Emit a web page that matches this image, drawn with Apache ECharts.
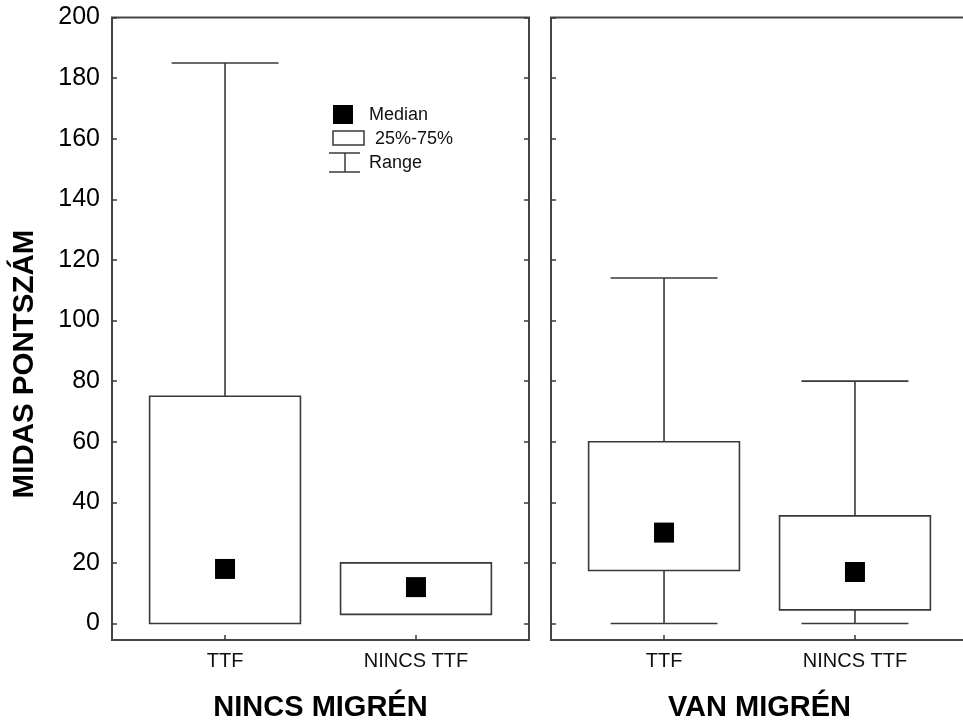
<!DOCTYPE html>
<html>
<head>
<meta charset="utf-8">
<script src="https://cdn.jsdelivr.net/npm/echarts@6/dist/echarts.min.js"></script>
<style>
html,body{margin:0;padding:0;background:#fff;}
#c{width:963px;height:724px;}
</style>
</head>
<body>
<div id="c"></div>
<script>
// ---- data ----
const groups = ['NINCS MIGRÉN', 'VAN MIGRÉN'];
const categories = ['TTF', 'NINCS TTF'];
const yTicks = [0, 20, 40, 60, 80, 100, 120, 140, 160, 180, 200];

// NINCS MIGRÉN
const noMigMin = [0, 3];
const noMigQ1 = [0, 3];
const noMigMedian = [18, 12];
const noMigQ3 = [75, 20];
const noMigMax = [185, 20];

// VAN MIGRÉN
const migMin = [0, 0];
const migQ1 = [17.5, 4.5];
const migMedian = [30, 17];
const migQ3 = [60, 35.5];
const migMax = [114, 80];

const legendLabels = ['Median', '25%-75%', 'Range'];
const yTitle = 'MIDAS PONTSZÁM';

// ---- build ----
const FONT = '"Liberation Sans", Arial, sans-serif';
const LINE = '#383838';
const BOX_W = 0.79, CAP_W = 0.56;

function boxData(mn, q1, md, q3, mx) {
  return categories.map((c, i) => [i, mn[i], q1[i], md[i], q3[i], mx[i]]);
}
function medData(md) {
  return categories.map((c, i) => [i, md[i]]);
}

function renderBox(params, api) {
  const x = api.value(0), mn = api.value(1), q1 = api.value(2), q3 = api.value(4), mx = api.value(5);
  const bw = api.size([BOX_W, 0])[0];
  const cw = api.size([CAP_W, 0])[0];
  const pMin = api.coord([x, mn]), pQ1 = api.coord([x, q1]), pQ3 = api.coord([x, q3]), pMax = api.coord([x, mx]);
  const st = { stroke: LINE, lineWidth: 1.6, fill: null };
  const ch = [];
  if (mx > q3) {
    ch.push({ type: 'line', shape: { x1: pQ3[0], y1: pQ3[1], x2: pMax[0], y2: pMax[1] }, style: st });
    ch.push({ type: 'line', shape: { x1: pMax[0] - cw / 2, y1: pMax[1], x2: pMax[0] + cw / 2, y2: pMax[1] }, style: st });
  }
  if (mn < q1) {
    ch.push({ type: 'line', shape: { x1: pMin[0], y1: pMin[1], x2: pQ1[0], y2: pQ1[1] }, style: st });
    ch.push({ type: 'line', shape: { x1: pMin[0] - cw / 2, y1: pMin[1], x2: pMin[0] + cw / 2, y2: pMin[1] }, style: st });
  }
  ch.push({ type: 'rect', shape: { x: pQ3[0] - bw / 2, y: pQ3[1], width: bw, height: pQ1[1] - pQ3[1] },
            style: { stroke: LINE, lineWidth: 1.6, fill: '#fff' } });
  return { type: 'group', children: ch };
}

const grids = [
  { left: 112, top: 17.5, width: 417, height: 622.5, show: true, borderColor: '#444', borderWidth: 2, backgroundColor: 'transparent', outerBoundsMode: 'none', containLabel: false },
  { left: 551, top: 17.5, width: 417, height: 622.5, show: true, borderColor: '#444', borderWidth: 2, backgroundColor: 'transparent', outerBoundsMode: 'none', containLabel: false }
];

function xAx(gi) {
  return {
    type: 'value', gridIndex: gi, min: -0.592, max: 1.592,
    name: groups[gi], nameLocation: 'middle', nameGap: 53,
    nameTextStyle: { fontFamily: FONT, fontSize: 29, fontWeight: 'bold', color: '#000' },
    axisLine: { show: false, onZero: false }, splitLine: { show: false },
    axisTick: { show: true, inside: true, length: 5, customValues: [0, 1], lineStyle: { color: LINE, width: 1.5 } },
    axisLabel: { show: true, customValues: [0, 1], margin: 11, fontFamily: FONT, fontSize: 20, color: '#111',
                 formatter: v => categories[Math.round(v)] }
  };
}
function yAx(gi, pos, labels) {
  return {
    type: 'value', gridIndex: gi, position: pos, min: -5.45, max: 200,
    axisLine: { show: false, onZero: false }, splitLine: { show: false },
    axisTick: { show: true, inside: true, length: 5, customValues: yTicks, lineStyle: { color: LINE, width: 1.5 } },
    axisLabel: { show: labels, customValues: yTicks, margin: 12, fontFamily: FONT, fontSize: 25, color: '#000' }
  };
}

const option = {
  backgroundColor: '#fff',
  animation: false,
  grid: grids,
  xAxis: [xAx(0), xAx(1)],
  yAxis: [yAx(0, 'left', true), yAx(0, 'right', false), yAx(1, 'left', false)],
  series: [
    { type: 'custom', xAxisIndex: 0, yAxisIndex: 0, renderItem: renderBox, data: boxData(noMigMin, noMigQ1, noMigMedian, noMigQ3, noMigMax), z: 2 },
    { type: 'scatter', xAxisIndex: 0, yAxisIndex: 0, symbol: 'rect', symbolSize: 20, itemStyle: { color: '#000', opacity: 1 }, data: medData(noMigMedian), z: 5 },
    { type: 'custom', xAxisIndex: 1, yAxisIndex: 2, renderItem: renderBox, data: boxData(migMin, migQ1, migMedian, migQ3, migMax), z: 2 },
    { type: 'scatter', xAxisIndex: 1, yAxisIndex: 2, symbol: 'rect', symbolSize: 20, itemStyle: { color: '#000', opacity: 1 }, data: medData(migMedian), z: 5 }
  ],
  graphic: [
    { type: 'text', x: 25, y: 364, rotation: Math.PI / 2,
      style: { text: yTitle, fontFamily: FONT, fontSize: 29.5, fontWeight: 'bold', fill: '#000', align: 'center', verticalAlign: 'middle' } },
    // legend
    { type: 'rect', shape: { x: 333, y: 105, width: 20, height: 19 }, style: { fill: '#000' } },
    { type: 'text', x: 369, y: 115, style: { text: legendLabels[0], fontFamily: FONT, fontSize: 18, fill: '#111', verticalAlign: 'middle' } },
    { type: 'rect', shape: { x: 333, y: 131, width: 31, height: 14 }, style: { fill: '#fff', stroke: LINE, lineWidth: 1.5 } },
    { type: 'text', x: 375, y: 139, style: { text: legendLabels[1], fontFamily: FONT, fontSize: 18, fill: '#111', verticalAlign: 'middle' } },
    { type: 'line', shape: { x1: 329, y1: 153, x2: 360, y2: 153 }, style: { stroke: LINE, lineWidth: 1.5 } },
    { type: 'line', shape: { x1: 329, y1: 172, x2: 360, y2: 172 }, style: { stroke: LINE, lineWidth: 1.5 } },
    { type: 'line', shape: { x1: 345, y1: 153, x2: 345, y2: 172 }, style: { stroke: LINE, lineWidth: 1.5 } },
    { type: 'text', x: 369, y: 163, style: { text: legendLabels[2], fontFamily: FONT, fontSize: 18, fill: '#111', verticalAlign: 'middle' } }
  ]
};

const chart = echarts.init(document.getElementById('c'), null, { renderer: 'canvas' });
chart.setOption(option);
</script>
</body>
</html>
